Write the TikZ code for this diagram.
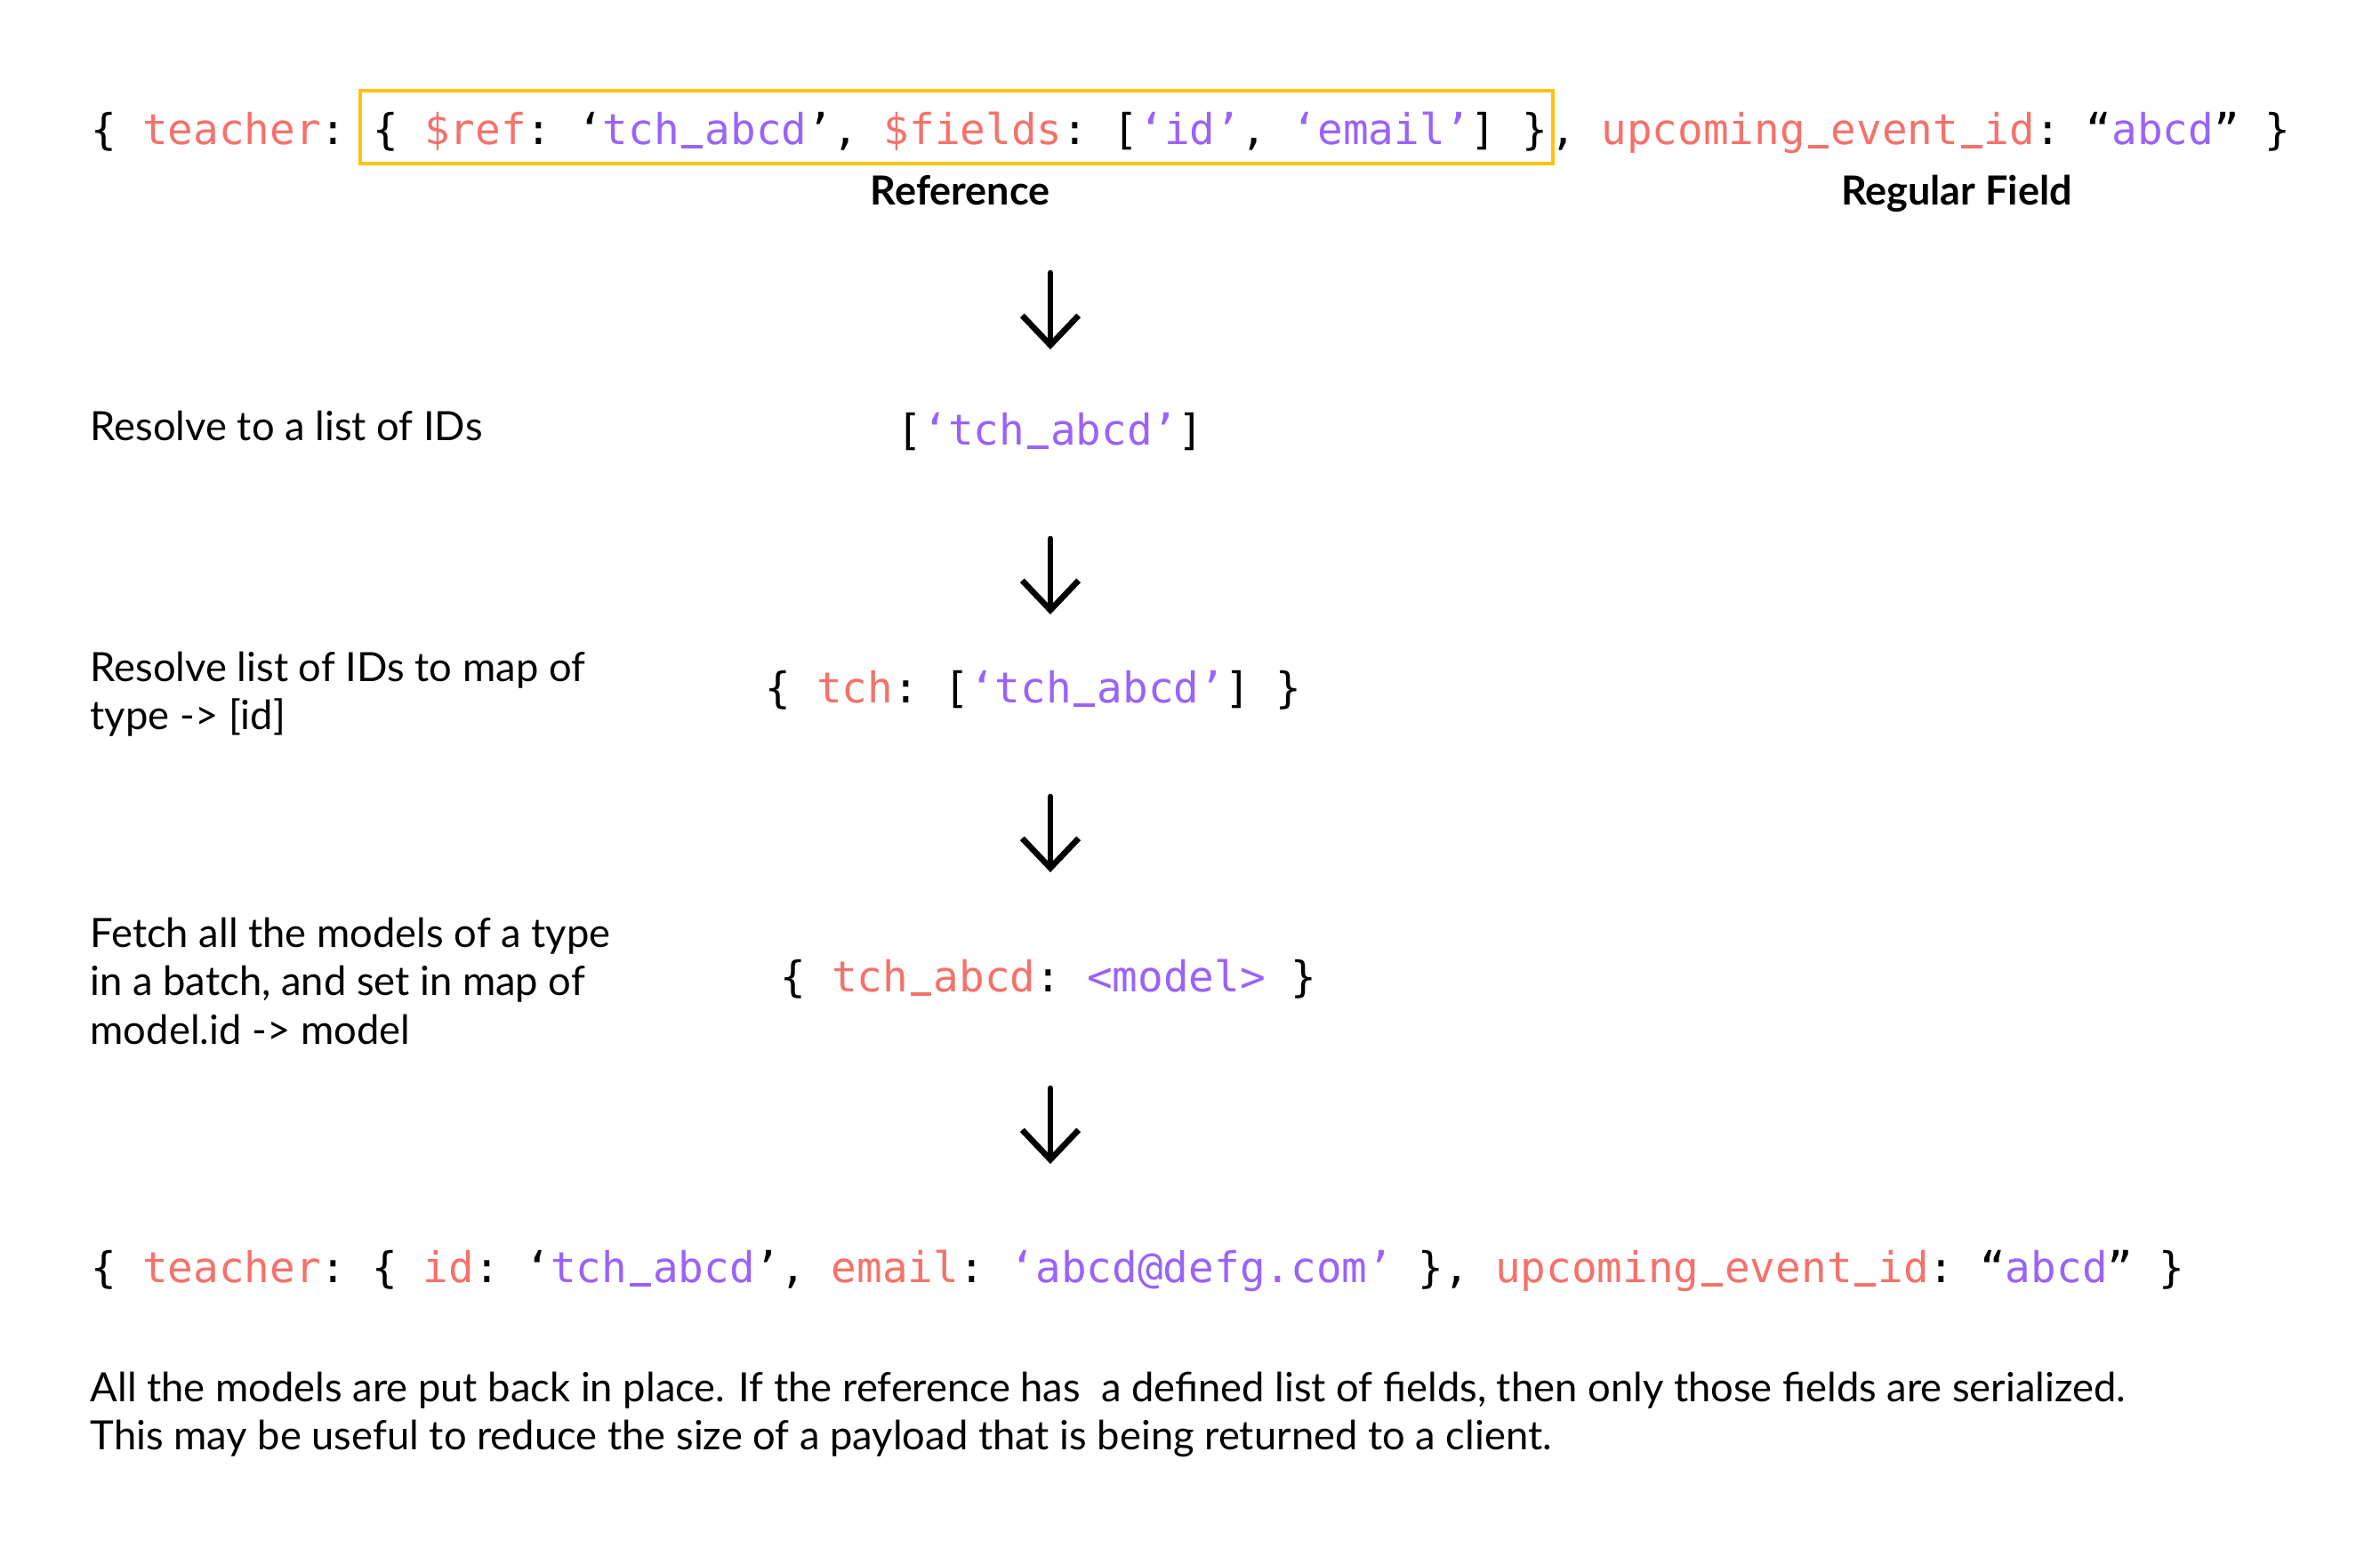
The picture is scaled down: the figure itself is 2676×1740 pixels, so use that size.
\documentclass[tikz,border=0pt]{standalone}
\usepackage{fontspec}
\setmainfont{Lato}
\setmonofont{DejaVu Sans Mono}
\usetikzlibrary{arrows.meta,calc}
\definecolor{kred}{HTML}{F4726A}
\definecolor{kpur}{HTML}{9A63F8}
\definecolor{kbox}{HTML}{FFC20E}
\newcommand{\keyc}[1]{\textcolor{kred}{#1}}
\newcommand{\valc}[1]{\textcolor{kpur}{#1}}
\newcommand{\us}{\makebox[0.602em]{\rule[-0.11em]{0.5em}{0.08em}}}
\begin{document}
\begin{tikzpicture}[x=0.3pt,y=-0.3pt,
  code/.style={font=\ttfamily\fontsize{14.3}{17}\selectfont, inner sep=0pt, anchor=base west},
  codec/.style={code, anchor=base},
  body/.style={font=\fontsize{13.6}{16.4}\selectfont, inner sep=0pt, anchor=base west},
  lab/.style={font=\bfseries\fontsize{13.5}{16}\selectfont, inner sep=0pt, anchor=base},
  refbox/.style={draw=kbox, line width=1.2pt},
  flow/.style={line width=2pt, line cap=round, line join=round, -{Straight Barb[length=10pt,width=19pt,line width=2pt]}}]
\useasboundingbox (0,0) rectangle (2676,1740);

% top line
\node[code] (t1) at (102,162) {\{ \keyc{teacher}:};
\node[code] (tbox) at ($(t1.base east)+(28.7,0)$) {\{ \keyc{\$ref}: ‘\valc{tch\us abcd}’, \keyc{\$fields}: [\valc{‘id’}, \valc{‘email’}] \}};
\node[code] (t3) at ($(tbox.base east)+(2,0)$) {, \keyc{upcoming\us event\us id}: “\valc{abcd}” \}};
\draw[refbox] ($(tbox.base west)+(-14,-60)$) rectangle ($(tbox.base east)+(6,22)$);
\node[lab] (lref) at ($(tbox.base)+(0,68)$) {Reference};
\node[lab] (lreg) at (2200,230) {Regular Field};

% step 1
\coordinate (a1s) at (1181,307);
\coordinate (a1e) at (1181,393);
\draw[flow] (a1s) -- (a1e);
\node[body] (d1) at (101,495) {Resolve to a list of IDs};
\node[codec] (c1) at (1181,500) {[\valc{‘tch\us abcd’}]};

% step 2
\coordinate (a2s) at (1181,606);
\coordinate (a2e) at (1181,691);
\draw[flow] (a2s) -- (a2e);
\node[body] (d2) at (101,766) {\begin{tabular}[t]{@{}l@{}}Resolve list of IDs to map of\\type -> [id]\end{tabular}};
\node[codec] (c2) at (1162,790) {\{ \keyc{tch}: [\valc{‘tch\us abcd’}] \}};

% step 3
\coordinate (a3s) at (1181,896);
\coordinate (a3e) at (1181,981);
\draw[flow] (a3s) -- (a3e);
\node[body] (d3) at (101,1065) {\begin{tabular}[t]{@{}l@{}}Fetch all the models of a type\\in a batch, and set in map of\\model.id -> model\end{tabular}};
\node[codec] (c3) at (1179,1115) {\{ \keyc{tch\us abcd}: \valc{<model>} \}};

% step 4
\coordinate (a4s) at (1181,1224);
\coordinate (a4e) at (1181,1309);
\draw[flow] (a4s) -- (a4e);
\node[code] (res) at (102,1442) {\{ \keyc{teacher}: \{ \keyc{id}: ‘\valc{tch\us abcd}’, \keyc{email}: \valc{‘abcd@defg.com’} \}, \keyc{upcoming\us event\us id}: “\valc{abcd}” \}};

\node[body] (note) at (101,1576) {\begin{tabular}[t]{@{}l@{}}All the models are put back in place. If the reference has \ a defined list of fields, then only those fields are serialized.\\This may be useful to reduce the size of a payload that is being returned to a client.\end{tabular}};
\end{tikzpicture}
\end{document}
